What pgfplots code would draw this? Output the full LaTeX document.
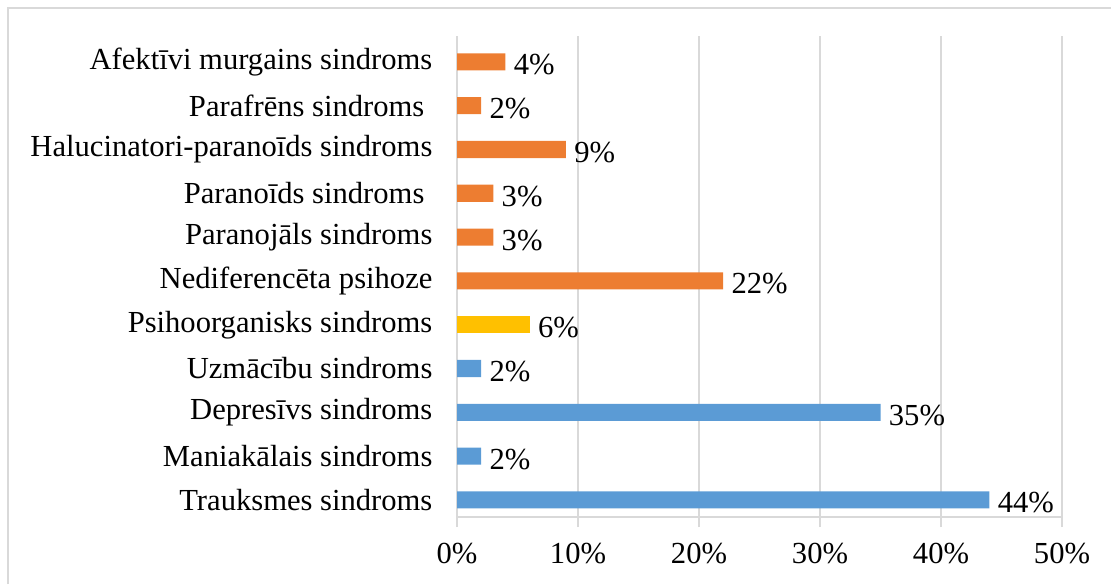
\documentclass[border=0pt]{standalone}
\usepackage{pgfplots}
\pgfplotsset{compat=1.18}
\usepackage{fontspec}
\setmainfont{Liberation Serif}
\definecolor{cblue}{HTML}{5B9BD5}
\definecolor{corange}{HTML}{ED7D31}
\definecolor{cyellow}{HTML}{FFC000}
\definecolor{cgrid}{HTML}{D9D9D9}
\begin{document}
\fontsize{15.3}{18}\selectfont
\begin{tikzpicture}
  \useasboundingbox (0,0) rectangle (555.5pt,292pt);
  \draw[cgrid, line width=1pt] (4pt,0) -- (4pt,288pt) -- (560pt,288pt);
  \begin{axis}[
      at={(228.5pt,33.5pt)}, anchor=south west,
      scale only axis,
      width=302.5pt, height=240.5pt,
      xbar, clip=false,
      xmin=0, xmax=50,
      ymin=-0.39, ymax=10.59,
      axis x line*=bottom, axis y line*=left,
      y axis line style={draw=none},
      x axis line style={cgrid, line width=0.8pt},
      xtick={0,10,...,50},
      xticklabels={0\%,10\%,20\%,30\%,40\%,50\%},
      xtick style={cgrid, line width=0.8pt},
      tick align=outside, major tick length=5pt,
      xmajorgrids, grid style={cgrid, line width=0.8pt},
      ytick={0,...,10},
      ytick style={draw=none},
      yticklabels={Trauksmes sindroms, Maniakālais sindroms, Depresīvs sindroms,
        Uzmācību sindroms, Psihoorganisks sindroms, Nediferencēta psihoze,
        Paranojāls sindroms, Paranoīds sindroms\kern4pt, Halucinatori-paranoīds sindroms,
        Parafrēns sindroms\kern4pt, Afektīvi murgains sindroms},
      y tick label style={xshift=-2pt},
      x tick label style={yshift=-3pt},
      bar width=0.39,
      point meta=x,
      nodes near coords={\pgfmathprintnumber[assume math mode=true]{\pgfplotspointmeta}\%},
      nodes near coords style={anchor=west, inner sep=2pt, xshift=2pt, yshift=-1.5pt},
    ]
    \addplot[fill=cblue, draw=none, bar shift=0pt] coordinates {(44,0) (2,1) (35,2) (2,3)};
    \addplot[fill=cyellow, draw=none, bar shift=0pt] coordinates {(6,4)};
    \addplot[fill=corange, draw=none, bar shift=0pt] coordinates {(22,5) (3,6) (3,7) (9,8) (2,9) (4,10)};
  \end{axis}
\end{tikzpicture}
\end{document}
